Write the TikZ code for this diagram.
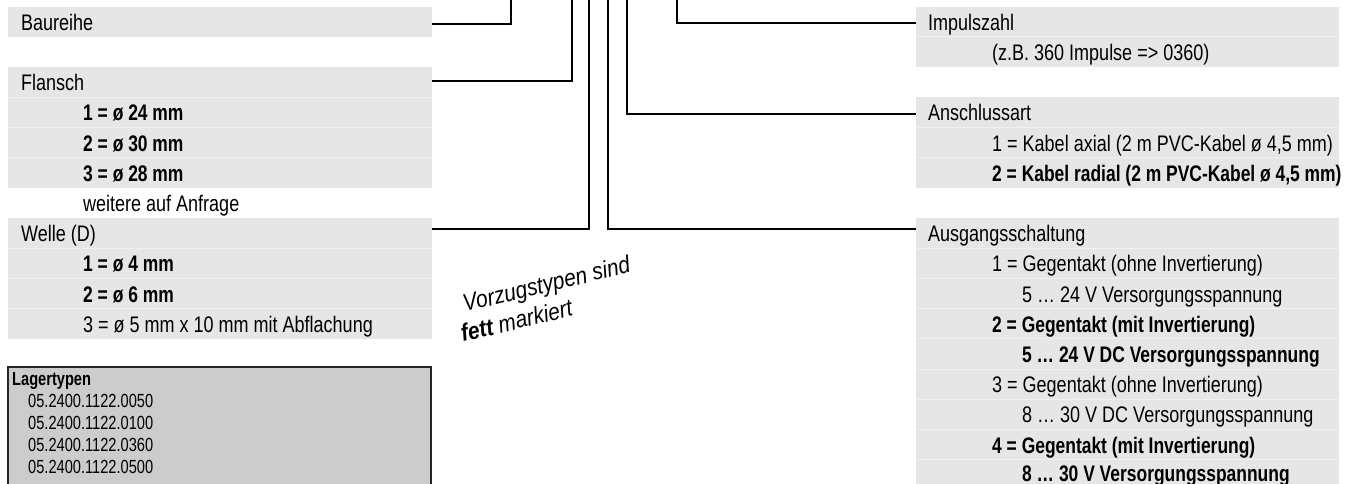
\documentclass[tikz,border=0pt]{standalone}
\usepackage{fontspec}
\setmainfont{Liberation Sans}[FakeStretch=0.8]
\newfontfamily\bfam{Liberation Sans}[FakeStretch=0.775]
\newfontfamily\lfam{Liberation Sans}[FakeStretch=0.77]
\newfontfamily\vzfont{Liberation Sans}[FakeStretch=0.87]
\definecolor{boxgray}{HTML}{E6E6E6}
\definecolor{sepgray}{HTML}{F0F0F0}
\definecolor{lagergray}{HTML}{CCCCCC}
\begin{document}
\begin{tikzpicture}[x=1pt,y=-1pt,
  lbl/.style={anchor=base west, inner sep=0pt, font=\fontsize{22.5}{27}\selectfont},
  blbl/.style={anchor=base west, inner sep=0pt, font=\bfam\bfseries\fontsize{22.5}{27}\selectfont},
  smlbl/.style={anchor=base west, inner sep=0pt, font=\lfam\fontsize{19}{22}\selectfont},
  smblbl/.style={anchor=base west, inner sep=0pt, font=\lfam\bfseries\fontsize{19}{22}\selectfont},
  vzlbl/.style={anchor=base west, inner sep=0pt, rotate=13.5, font=\vzfont\itshape\fontsize{24}{28}\selectfont},
  rowfill/.style={fill=boxgray},
  sep/.style={draw=sepgray, line width=1pt},
  conn/.style={draw=black, line width=2pt}]
\useasboundingbox (0,0) rectangle (1351,484);
\clip (0,0) rectangle (1351,484);

% ---------- left boxes ----------
\fill[rowfill] (8,6.6) rectangle (432,36.8);
\fill[rowfill] (8,67) rectangle (432,187.8);
\draw[sep] (8,97.2) -- (432,97.2);
\draw[sep] (8,127.4) -- (432,127.4);
\draw[sep] (8,157.6) -- (432,157.6);
\fill[rowfill] (8,218) rectangle (432,338.8);
\draw[sep] (8,248.2) -- (432,248.2);
\draw[sep] (8,278.4) -- (432,278.4);
\draw[sep] (8,308.6) -- (432,308.6);

\node[lbl] (baureihe) at (21,30.2) {Baureihe};
\node[lbl] (flansch) at (21,90.6) {Flansch};
\node[blbl] (fl1) at (83,120.8) {1 = ø 24 mm};
\node[blbl] (fl2) at (83,151) {2 = ø 30 mm};
\node[blbl] (fl3) at (83,181.2) {3 = ø 28 mm};
\node[lbl] (flw) at (83,211.4) {weitere auf Anfrage};
\node[lbl] (welle) at (21,241.6) {Welle (D)};
\node[blbl] (we1) at (83,271.8) {1 = ø 4 mm};
\node[blbl] (we2) at (83,302) {2 = ø 6 mm};
\node[lbl] (we3) at (83,332.2) {3 = ø 5 mm x 10 mm mit Abflachung};

% ---------- Lagertypen ----------
\draw[fill=lagergray, draw=black!85, line width=1.3pt] (8,367) rectangle (431,520);
\node[smblbl] (lager) at (12,385.5) {Lagertypen};
\node[smlbl] (lt1) at (28,407.3) {05.2400.1122.0050};
\node[smlbl] (lt2) at (28,429.3) {05.2400.1122.0100};
\node[smlbl] (lt3) at (28,451.3) {05.2400.1122.0360};
\node[smlbl] (lt4) at (28,473.3) {05.2400.1122.0500};

% ---------- right boxes ----------
\fill[rowfill] (916,6.6) rectangle (1339,67);
\draw[sep] (916,36.8) -- (1339,36.8);
\fill[rowfill] (916,97.2) rectangle (1339,187.8);
\draw[sep] (916,127.4) -- (1339,127.4);
\draw[sep] (916,157.6) -- (1339,157.6);
\fill[rowfill] (916,218) rectangle (1339,500);
\foreach \yy in {248.2,278.4,308.6,338.8,369.0,399.2,429.4,459.6}
  \draw[sep] (916,\yy) -- (1339,\yy);

\node[lbl] (impuls) at (928,30.2) {Impulszahl};
\node[lbl] (imp1) at (992,60.4) {(z.B. 360 Impulse => 0360)};
\node[lbl] (anschl) at (928,120.8) {Anschlussart};
\node[lbl] (an1) at (992,151) {1 = Kabel axial (2 m PVC-Kabel ø 4,5 mm)};
\node[blbl] (an2) at (992,181.2) {2 = Kabel radial (2 m PVC-Kabel ø 4,5 mm)};
\node[lbl] (ausg) at (928,241.6) {Ausgangsschaltung};
\node[lbl] (au1) at (992,271.8) {1 = Gegentakt (ohne Invertierung)};
\node[lbl] (au1b) at (1022,302) {5 … 24 V Versorgungsspannung};
\node[blbl] (au2) at (992,332.2) {2 = Gegentakt (mit Invertierung)};
\node[blbl] (au2b) at (1022,362.4) {5 … 24 V DC Versorgungsspannung};
\node[lbl] (au3) at (992,392.6) {3 = Gegentakt (ohne Invertierung)};
\node[lbl] (au3b) at (1022,422.8) {8 … 30 V DC Versorgungsspannung};
\node[blbl] (au4) at (992,453) {4 = Gegentakt (mit Invertierung)};
\node[blbl] (au4b) at (1022,481.5) {8 … 30 V Versorgungsspannung};

% ---------- rotated note ----------
\node[vzlbl] (vz1) at (465,312) {Vorzugstypen sind};
\node[vzlbl] (vz2) at (463,342) {\bfseries fett\mdseries{} markiert};

% ---------- connectors ----------
\coordinate (cBau) at (432,24);
\coordinate (tBau) at (511,-5);
\coordinate (cFla) at (432,81);
\coordinate (tFla) at (572,-5);
\coordinate (cWel) at (432,229);
\coordinate (tWel) at (589,-5);
\coordinate (cAus) at (916,229);
\coordinate (tAus) at (608,-5);
\coordinate (cAns) at (916,114);
\coordinate (tAns) at (627,-5);
\coordinate (cImp) at (916,23);
\coordinate (tImp) at (677,-5);

\draw[conn] (cBau) -| (tBau);
\draw[conn] (cFla) -| (tFla);
\draw[conn] (cWel) -| (tWel);
\draw[conn] (cAus) -| (tAus);
\draw[conn] (cAns) -| (tAns);
\draw[conn] (cImp) -| (tImp);
\end{tikzpicture}
\end{document}
